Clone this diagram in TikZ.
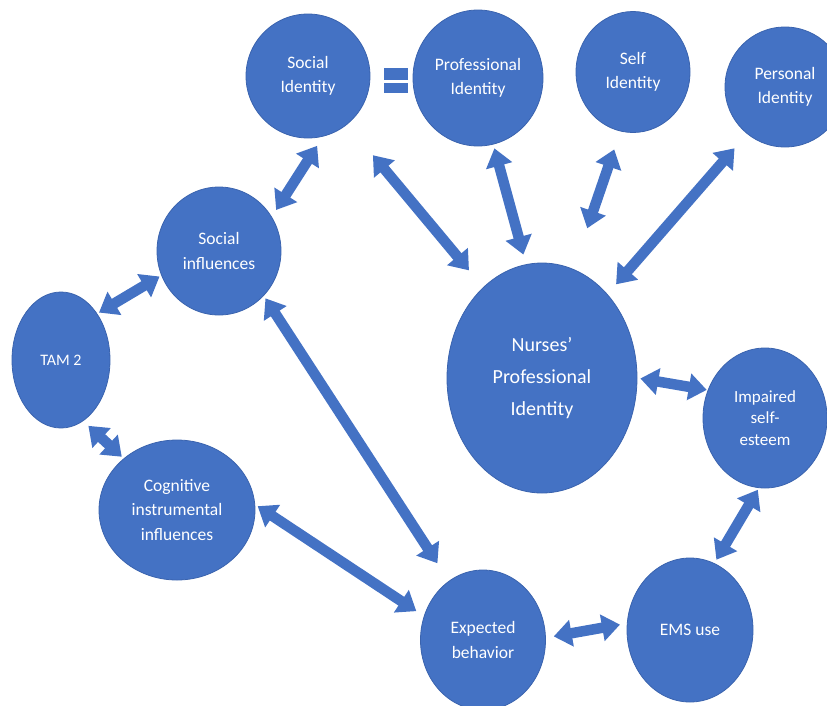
\documentclass[tikz,border=0pt]{standalone}
\usepackage{fontspec}
\setmainfont{Carlito}
\usetikzlibrary{shapes.geometric,arrows.meta}
\definecolor{bblue}{HTML}{4472C4}
\definecolor{bedge}{HTML}{3A63AE}
\tikzset{
  bub/.style={ellipse, fill=bblue, draw=bedge, line width=0.8pt, inner sep=0pt,
    text=white, align=center, font=\fontsize{17.5}{24.5}\selectfont},
  dar/.style={draw=bblue, line width=10.5pt,
    {Triangle[width=26pt,length=18pt]}-{Triangle[width=26pt,length=18pt]}},
  eqbar/.style={fill=bblue, draw=none}
}
\begin{document}
\begin{tikzpicture}[x=1pt,y=-1pt]
\useasboundingbox (0,0) rectangle (827,705);
\clip (0,0) rectangle (827,705);
% nodes
\node[bub, minimum width=124pt, minimum height=124pt] (si) at (308,76) {Social\\Identity};
\node[bub, minimum width=130pt, minimum height=136pt] (pi) at (478,78) {Professional\\Identity};
\node[bub, minimum width=114pt, minimum height=121pt] (selfi) at (633,72) {Self\\Identity};
\node[bub, minimum width=120pt, minimum height=120pt] (peri) at (785,87) {Personal\\Identity};
\node[bub, minimum width=124pt, minimum height=128pt] (sinf) at (219,251) {Social\\influences};
\node[bub, minimum width=98pt, minimum height=136pt, font=\fontsize{16}{20}\selectfont] (tam) at (61,360) {TAM 2};
\node[bub, minimum width=156pt, minimum height=140pt] (cog) at (177,510) {Cognitive\\instrumental\\influences};
\node[bub, minimum width=190pt, minimum height=230pt, font=\fontsize{20}{32}\selectfont] (npi) at (542,378) {Nurses'\\Professional\\Identity};
\node[bub, minimum width=124pt, minimum height=140pt, font=\fontsize{17}{21.5}\selectfont] (imp) at (765,418) {Impaired\\self-\\esteem};
\node[bub, minimum width=125pt, minimum height=140pt] (exp) at (483,640) {Expected\\behavior};
\node[bub, minimum width=126pt, minimum height=144pt] (ems) at (690,630) {EMS use};
% equals sign
\fill[eqbar] (384,68) rectangle (408,80);
\fill[eqbar] (384,83) rectangle (408,93);
% connectors
\draw[dar, shorten <=11pt, shorten >=8pt] (si.-76.5) -- (sinf.33.9);
\draw[dar, shorten <=40pt, shorten >=22pt] (si.-51.8) -- (npi.123.7);
\draw[dar, shorten <=4pt, shorten >=10pt] (pi.-77.9) -- (npi.98.8);
\draw[dar, shorten <=19pt, shorten >=43pt] (selfi.-102.8) -- (npi.74);
\draw[dar, shorten <=19pt, shorten >=13pt] (peri.-129.3) -- (npi.52.8);
\draw[dar, shorten <=2pt, shorten >=2pt] (sinf.-157.9) -- (tam.52.4);
\draw[dar, shorten <=7pt, shorten >=2.5pt] (tam.-70.6) -- (cog.136);
\draw[dar, shorten <=3pt, shorten >=21pt] (sinf.-45) -- (exp.120.3);
\draw[dar, shorten <=3pt, shorten >=9pt] (cog.4.9) -- (exp.158.8);
\draw[dar, shorten <=3pt, shorten >=1pt] (npi.0.6) -- (imp.154.2);
\draw[dar, shorten <=2pt, shorten >=4pt] (imp.-95.6) -- (ems.70.3);
\draw[dar, shorten <=8pt, shorten >=7pt] (exp.2.5) -- (ems.174.3);
\end{tikzpicture}
\end{document}
